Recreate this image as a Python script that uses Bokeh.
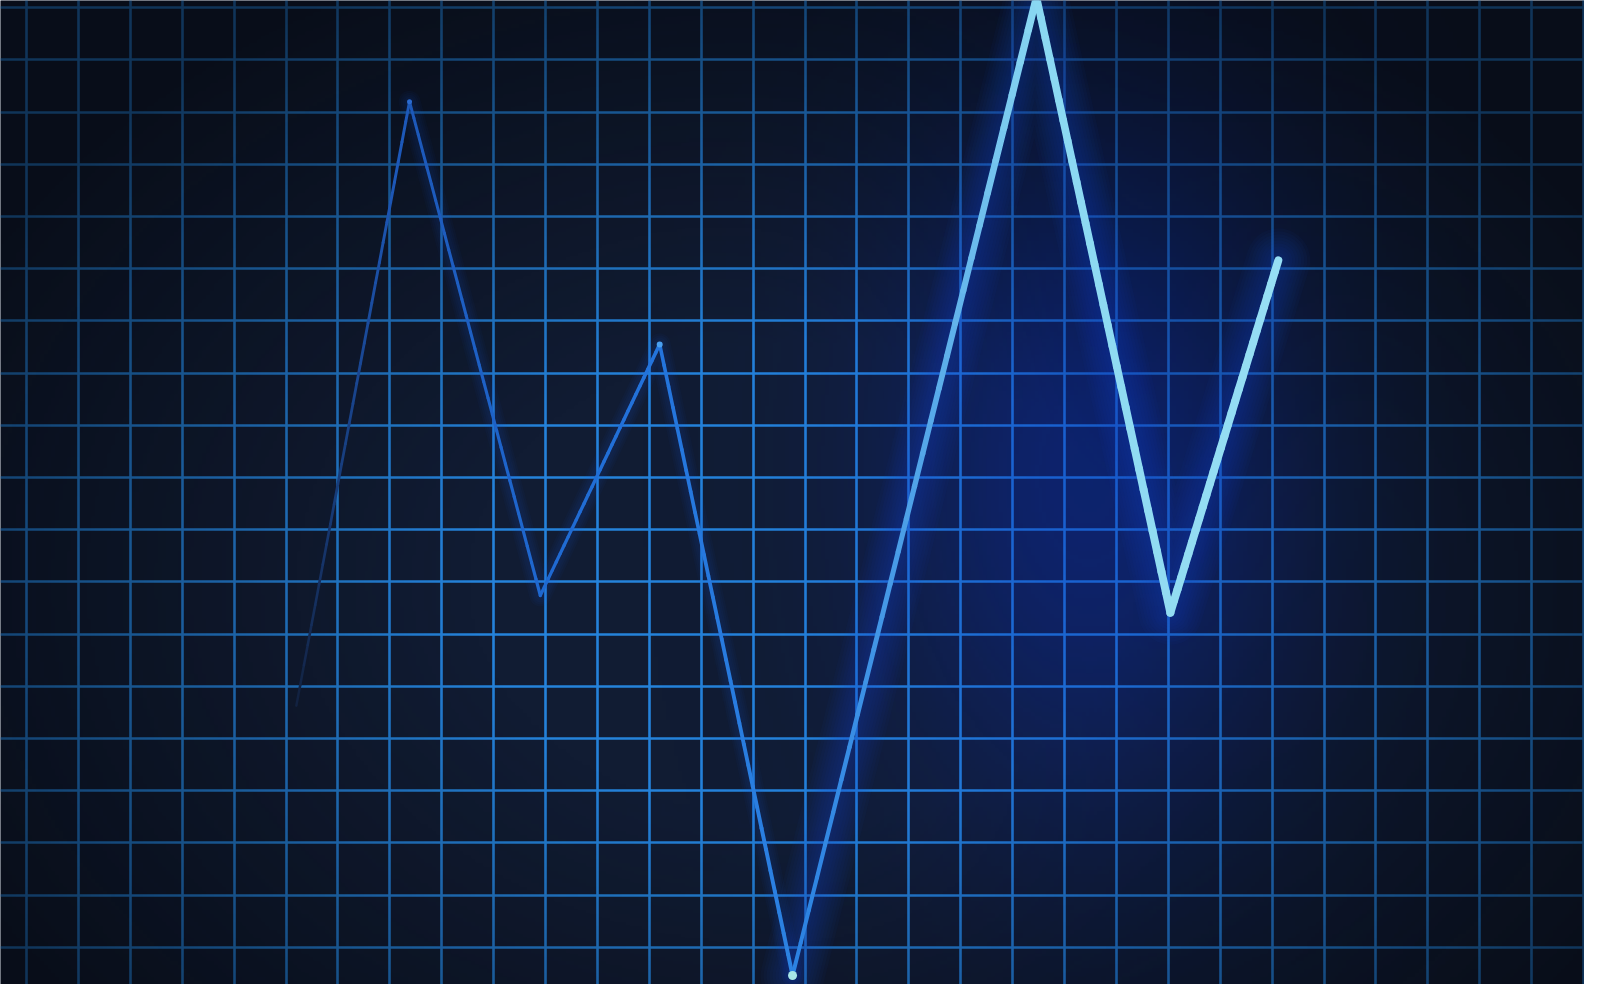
import numpy as np
from bokeh.plotting import figure
from bokeh.models import Range1d, FixedTicker
from bokeh.embed import file_html
from bokeh.resources import INLINE

# ---- data (grid units: one unit = one grid cell) ----
xs = [5.20, 7.38, 9.90, 12.20, 14.76, 19.46, 22.04, 24.12]
ys = [5.63, 17.20, 7.74, 12.55, 0.46, 19.20, 7.41, 14.16]
x_ticks = list(range(0, 31))
y_ticks = list(range(0, 20))

# ---- styling per vertex (colour / width along the trace) ----
pt_colors = ["#12203c", "#1d58b8", "#1f68d0", "#2474dc", "#2c82e2", "#8ad8f2", "#92dcf2", "#96def4"]
pt_widths = [2.5, 3.0, 3.2, 3.6, 4.0, 7.5, 8.0, 8.0]

BG = "#111c33"
GRID = "#2582da"

X0, X1 = -26 / 51.9, (1584 - 26) / 51.9
Y0, Y1 = (999 - 984) / 52.2, 999 / 52.2

W, H = 1584, 984
p = figure(width=W, height=H, output_backend="svg", toolbar_location=None,
           x_range=Range1d(X0, X1), y_range=Range1d(Y0, Y1),
           x_axis_location=None, y_axis_location=None, min_border=0,
           background_fill_color=BG, border_fill_color=BG, outline_line_color=None)

p.xgrid.ticker = FixedTicker(ticks=x_ticks)
p.ygrid.ticker = FixedTicker(ticks=y_ticks)
for g in (p.xgrid, p.ygrid):
    g.grid_line_color = GRID
    g.grid_line_width = 2.6
    g.grid_line_alpha = 1.0

# ---- vignette / glow overlay (drawn above the grid, below the trace) ----
iw, ih = 400, 250
gx = np.linspace(X0, X1, iw)
gy = np.linspace(Y0, Y1, ih)
GX, GY = np.meshgrid(gx, gy)
cx, cy = 15.0, 8.0
d = np.sqrt(((GX - cx) / 16.0) ** 2 + ((GY - cy) / 11.5) ** 2)
dark = np.clip((d - 0.40) * 0.85, 0, 0.62)
# bluish haze around the bright right-hand V
hx, hy = 20.5, 10.0
h = np.exp(-(((GX - hx) / 4.0) ** 2 + ((GY - hy) / 6.5) ** 2))
rgba = np.zeros((ih, iw, 4), dtype=np.uint8)
haze_a = 0.42 * h
alpha = np.clip(dark + haze_a, 0, 1)
wb = np.where(alpha > 0, haze_a / np.maximum(alpha, 1e-6), 0)
rgba[..., 0] = (wb * 8 + (1 - wb) * 3).astype(np.uint8)
rgba[..., 1] = (wb * 45 + (1 - wb) * 5).astype(np.uint8)
rgba[..., 2] = (wb * 190 + (1 - wb) * 10).astype(np.uint8)
rgba[..., 3] = (alpha * 255).astype(np.uint8)
img = rgba.view(dtype=np.uint32).reshape(ih, iw)
p.image_rgba(image=[img], x=X0, y=Y0, dw=X1 - X0, dh=Y1 - Y0)

# ---- soft glow under the trace (many faint layers) ----
for wdt in range(64, 8, -6):
    p.line(xs[4:], ys[4:], line_color="#1a55f0", line_width=wdt, line_alpha=0.035,
           line_join="round", line_cap="round")
for wdt in range(22, 6, -4):
    p.line(xs[1:5], ys[1:5], line_color="#1a55f0", line_width=wdt, line_alpha=0.03,
           line_join="round", line_cap="round")


def hex2rgb(c):
    c = c.lstrip("#")
    return np.array([int(c[i:i + 2], 16) for i in (0, 2, 4)], dtype=float)


# ---- trace, drawn segment by segment with colour/width shading ----
n = 30
sx0, sy0, sx1, sy1, scol, swid = [], [], [], [], [], []
for i in range(len(xs) - 1):
    c0, c1 = hex2rgb(pt_colors[i]), hex2rgb(pt_colors[i + 1])
    t = np.linspace(0, 1, n + 1)
    px = xs[i] + (xs[i + 1] - xs[i]) * t
    py = ys[i] + (ys[i + 1] - ys[i]) * t
    for k in range(n):
        tm = (t[k] + t[k + 1]) / 2
        if i == 0:
            tm = min(1.0, tm ** 0.8 * 1.1)
        elif i == 4:
            tm = tm ** 1.4
        col = c0 + (c1 - c0) * tm
        sx0.append(px[k]); sy0.append(py[k]); sx1.append(px[k + 1]); sy1.append(py[k + 1])
        scol.append("#%02x%02x%02x" % tuple(int(round(v)) for v in col))
        swid.append(pt_widths[i] + (pt_widths[i + 1] - pt_widths[i]) * tm)

p.segment(x0=sx0, y0=sy0, x1=sx1, y1=sy1, line_color=scol, line_width=swid,
          line_cap="round")

# bright vertex dots
p.scatter([xs[1], xs[3], xs[4]], [ys[1], ys[3], ys[4]], size=[5, 6, 9],
          fill_color=["#2a6ad0", "#4aa0f0", "#a8e6e6"], line_color=None)

open("out.html", "w").write(file_html(p, INLINE))
